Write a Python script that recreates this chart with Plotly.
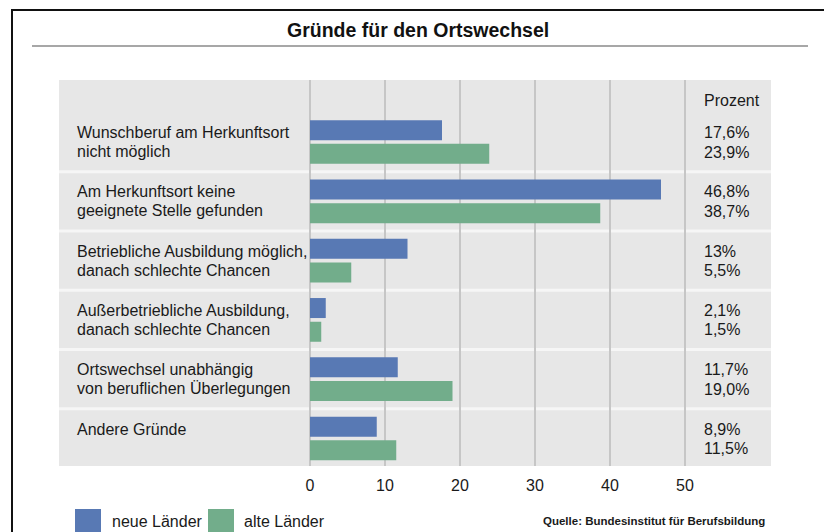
import plotly.graph_objects as go

title = "Gründe für den Ortswechsel"
categories = [
    "Wunschberuf am Herkunftsort\nnicht möglich",
    "Am Herkunftsort keine\ngeeignete Stelle gefunden",
    "Betriebliche Ausbildung möglich,\ndanach schlechte Chancen",
    "Außerbetriebliche Ausbildung,\ndanach schlechte Chancen",
    "Ortswechsel unabhängig\nvon beruflichen Überlegungen",
    "Andere Gründe",
]
neue_laender = [17.6, 46.8, 13.0, 2.1, 11.7, 8.9]
alte_laender = [23.9, 38.7, 5.5, 1.5, 19.0, 11.5]
neue_labels = ["17,6%", "46,8%", "13%", "2,1%", "11,7%", "8,9%"]
alte_labels = ["23,9%", "38,7%", "5,5%", "1,5%", "19,0%", "11,5%"]
tick_values = [0, 10, 20, 30, 40, 50]
series_names = ["neue Länder", "alte Länder"]
unit_label = "Prozent"
source = "Quelle: Bundesinstitut für Berufsbildung"

BLUE = "#5879b4"
GREEN = "#72ad8b"
PANEL = "#e7e7e7"
GRID = "#c6c6c6"
TXT = "#1a1a1a"
FONT = "Liberation Sans, Arial, Helvetica, sans-serif"

# plot area in pixels
L, R, T, B = 59, 771, 80, 466
W, H = R - L, B - T


def px(x):
    return (x - L) / W


def py(y):
    return (B - y) / H


keys = [c.replace("\n", " ") for c in categories]

fig = go.Figure()
fig.add_trace(go.Bar(y=keys, x=neue_laender, orientation="h", name=series_names[0],
                     marker=dict(color=BLUE, line=dict(width=0)), hoverinfo="skip"))
fig.add_trace(go.Bar(y=keys, x=alte_laender, orientation="h", name=series_names[1],
                     marker=dict(color=GREEN, line=dict(width=0)), hoverinfo="skip"))

# x scale: 0 at 310px, 7.5 px per unit
x_lo = (L - 310) / 7.5
x_hi = (R - 310) / 7.5

annotations = []
shapes = []

# category labels (left column)
lab_x = (75 - 310) / 7.5
for k, c in zip(keys, categories):
    for i, line in enumerate(c.split("\n")):
        annotations.append(dict(x=lab_x, y=k, xref="x", yref="y", text=line, showarrow=False,
                                xanchor="left", yanchor="middle", yshift=9.5 - 19 * i,
                                font=dict(size=16, color=TXT, family=FONT)))

# value labels (right column)
val_x = (702 - 310) / 7.5
for k, a, b in zip(keys, neue_labels, alte_labels):
    for i, line in enumerate([a, b]):
        annotations.append(dict(x=val_x, y=k, xref="x", yref="y", text=line, showarrow=False,
                                xanchor="left", yanchor="middle", yshift=9.5 - 19.5 * i,
                                font=dict(size=16, color=TXT, family=FONT)))
annotations.append(dict(x=val_x, y=keys[0], xref="x", yref="y", text=unit_label, showarrow=False,
                        xanchor="left", yanchor="middle", yshift=42,
                        font=dict(size=16, color=TXT, family=FONT)))

# row separators
for i in range(len(keys) - 1):
    shapes.append(dict(type="line", xref="x domain", yref="y", x0=0, x1=1, y0=i + 0.5, y1=i + 0.5,
                       line=dict(color="#f6f6f6", width=3), layer="below"))

# title + rule
annotations.append(dict(x=px(418), y=py(30), xref="paper", yref="paper", text=title, showarrow=False,
                        xanchor="center", yanchor="middle",
                        font=dict(size=19.5, color="#111111", family=FONT, weight="bold")))
shapes.append(dict(type="line", xref="paper", yref="paper", x0=px(32), x1=px(808), y0=py(46), y1=py(46),
                   line=dict(color="#8a8a8a", width=1.3)))

# outer frame (left and top edges only; the rest lies beyond the picture)
shapes.append(dict(type="line", xref="paper", yref="paper", x0=px(12), x1=px(12), y0=py(10), y1=py(560),
                   line=dict(color="#111111", width=2)))
shapes.append(dict(type="line", xref="paper", yref="paper", x0=px(11), x1=px(860), y0=py(10), y1=py(10),
                   line=dict(color="#111111", width=2)))

# legend
for (x0, x1, tx), col, name in zip([(75, 101, 110), (208, 234, 242)], [BLUE, GREEN], series_names):
    shapes.append(dict(type="rect", xref="paper", yref="paper", x0=px(x0), x1=px(x1), y0=py(509), y1=py(545),
                       fillcolor=col, line=dict(width=0)))
    annotations.append(dict(x=px(tx), y=py(521), xref="paper", yref="paper", text=name, showarrow=False,
                            xanchor="left", yanchor="middle",
                            font=dict(size=16, color=TXT, family=FONT)))

# source
annotations.append(dict(x=px(767), y=py(521), xref="paper", yref="paper", text=source, showarrow=False,
                        xanchor="right", yanchor="middle",
                        font=dict(size=11.5, color=TXT, family=FONT, weight="bold")))

# y range: row pitch 59.3px, first row center 142px
pitch = 59.3
y_top = -(142 - T) / pitch
y_bot = (len(keys) - 1) + (B - (142 + pitch * (len(keys) - 1))) / pitch

fig.update_layout(
    width=824, height=532, autosize=False,
    margin=dict(l=L, r=824 - R, t=T, b=532 - B, pad=0),
    paper_bgcolor="white", plot_bgcolor=PANEL,
    barmode="group", bargap=0.2, bargroupgap=0.157,
    showlegend=False,
    font=dict(family=FONT, color=TXT),
    xaxis=dict(range=[x_lo, x_hi], tickvals=tick_values, ticktext=[str(v) for v in tick_values],
               showgrid=True, gridcolor=GRID, gridwidth=2, zeroline=False, showline=False,
               ticks="outside", ticklen=5, tickcolor="rgba(0,0,0,0)",
               tickfont=dict(size=16, color=TXT, family=FONT), fixedrange=True),
    yaxis=dict(type="category", range=[y_bot, y_top], showticklabels=False, showgrid=False,
               zeroline=False, showline=False, ticks="", fixedrange=True),
    annotations=annotations,
    shapes=shapes,
)

fig.write_html("out.html", config=dict(displayModeBar=False),
               post_script="document.body.style.margin='0';document.body.style.overflow='hidden';")
